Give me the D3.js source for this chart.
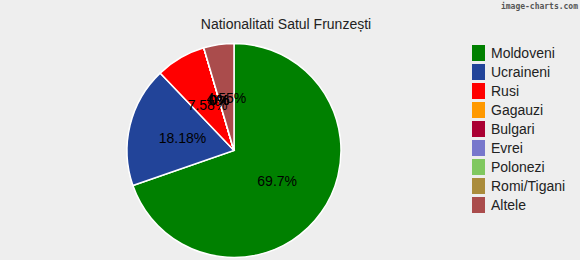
<!DOCTYPE html>
<html>
<head>
<meta charset="utf-8">
<script src="https://cdn.jsdelivr.net/npm/d3@7"></script>
<style>
  body { margin: 0; background: #eeeeee; }
  svg { display: block; font-family: "Liberation Sans", Arial, sans-serif; }
</style>
</head>
<body>
<div class="chart"></div>
<script>
// data
var categories = ["Moldoveni", "Ucraineni", "Rusi", "Gagauzi", "Bulgari", "Evrei", "Polonezi", "Romi/Tigani", "Altele"];
var percents = [69.7, 18.18, 7.58, 0, 0, 0, 0, 0, 4.55];
var colors = ["#008000", "#224499", "#ff0000", "#ff9900", "#aa0033", "#7777cc", "#80c860", "#aa8c3c", "#aa4c4c"];
var title = "Nationalitati Satul Frunzești";

var svgWidth = 580;
var svgHeight = 260;

var svg = d3.select(".chart")
  .append("svg")
  .attr("width", svgWidth)
  .attr("height", svgHeight);

svg.append("rect")
  .attr("width", svgWidth)
  .attr("height", svgHeight)
  .attr("fill", "#eeeeee");

// watermark
svg.append("text")
  .attr("x", 578)
  .attr("y", 9)
  .attr("text-anchor", "end")
  .attr("font-family", "'DejaVu Sans Mono', monospace")
  .attr("font-size", "8px")
  .attr("font-weight", "bold")
  .attr("fill", "#555")
  .text("image-charts.com");

// title
svg.append("text")
  .attr("x", 286)
  .attr("y", 29)
  .attr("text-anchor", "middle")
  .attr("font-size", "14px")
  .attr("fill", "#222")
  .text(title);

var data = categories.map(function(c, i) {
  return { name: c, value: percents[i], color: colors[i] };
});

var radius = 107;
var pieGroup = svg.append("g")
  .attr("transform", "translate(234, 150.5)");

var pie = d3.pie()
  .sort(null)
  .value(d => d.value);

var arc = d3.arc()
  .innerRadius(0)
  .outerRadius(radius);

var labelArc = d3.arc()
  .innerRadius(radius * 0.495)
  .outerRadius(radius * 0.495);

var arcs = pie(data);

pieGroup.selectAll("path")
  .data(arcs)
  .enter()
  .append("path")
  .attr("d", arc)
  .attr("fill", d => d.data.color)
  .attr("stroke", "#ffffff")
  .attr("stroke-width", 1.5);

pieGroup.selectAll("text")
  .data(arcs)
  .enter()
  .append("text")
  .attr("transform", d => `translate(${labelArc.centroid(d)})`)
  .attr("dy", "0.35em")
  .attr("text-anchor", "middle")
  .attr("font-size", "14px")
  .attr("fill", "#000")
  .text(d => d.data.value + "%");

// legend
var legend = svg.append("g")
  .attr("transform", "translate(472, 45)");

var items = legend.selectAll("g")
  .data(data)
  .enter()
  .append("g")
  .attr("transform", (d, i) => `translate(0, ${i * 19})`);

items.append("rect")
  .attr("width", 13)
  .attr("height", 16)
  .attr("fill", d => d.color);

items.append("text")
  .attr("x", 19)
  .attr("y", 8)
  .attr("dy", "0.35em")
  .attr("font-size", "14px")
  .attr("fill", "#222")
  .text(d => d.name);
</script>
</body>
</html>
